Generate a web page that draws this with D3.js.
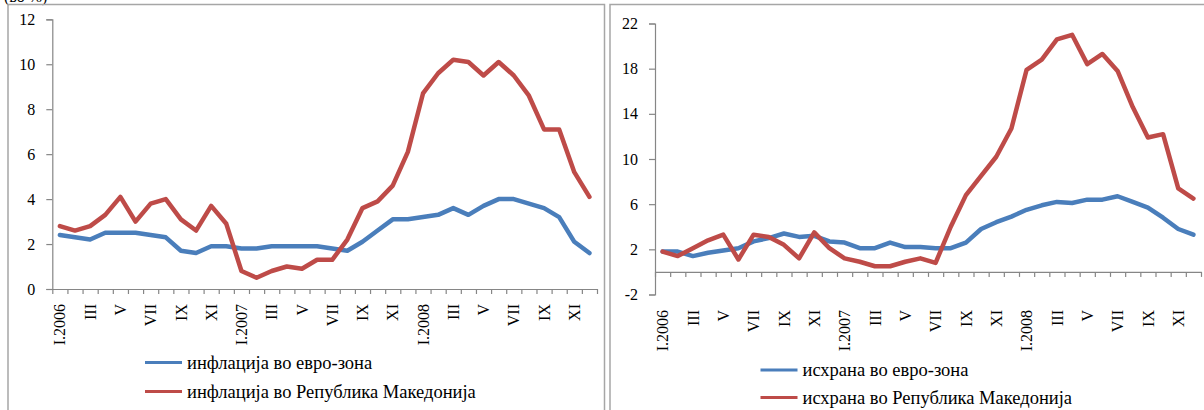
<!DOCTYPE html>
<html>
<head>
<meta charset="utf-8">
<script src="https://cdn.jsdelivr.net/npm/d3@7"></script>
<style>
  html, body { margin: 0; padding: 0; background: #fff; }
  svg { display: block; }
  text { font-family: "Liberation Serif", "Times New Roman", serif; fill: #000; }
</style>
</head>
<body>
<svg id="chart" width="1204" height="410"></svg>
<script>
// Monthly categories, January 2006 – December 2008
const months = [
  "I.2006","II","III","IV","V","VI","VII","VIII","IX","X","XI","XII",
  "I.2007","II","III","IV","V","VI","VII","VIII","IX","X","XI","XII",
  "I.2008","II","III","IV","V","VI","VII","VIII","IX","X","XI","XII"
];

// Annual inflation, %
const inflationEuro = [2.4,2.3,2.2,2.5,2.5,2.5,2.4,2.3,1.7,1.6,1.9,1.9,
                       1.8,1.8,1.9,1.9,1.9,1.9,1.8,1.7,2.1,2.6,3.1,3.1,
                       3.2,3.3,3.6,3.3,3.7,4.0,4.0,3.8,3.6,3.2,2.1,1.6];
const inflationMk   = [2.8,2.6,2.8,3.3,4.1,3.0,3.8,4.0,3.1,2.6,3.7,2.9,
                       0.8,0.5,0.8,1.0,0.9,1.3,1.3,2.2,3.6,3.9,4.6,6.1,
                       8.7,9.6,10.2,10.1,9.5,10.1,9.5,8.6,7.1,7.1,5.2,4.1];

// Annual food price inflation, %
const foodEuro = [1.8,1.8,1.4,1.7,1.9,2.1,2.7,3.0,3.4,3.1,3.2,2.7,
                  2.6,2.1,2.1,2.6,2.2,2.2,2.1,2.1,2.6,3.8,4.4,4.9,
                  5.5,5.9,6.2,6.1,6.4,6.4,6.7,6.2,5.7,4.8,3.8,3.3];
const foodMk   = [1.8,1.4,2.1,2.8,3.3,1.1,3.3,3.1,2.4,1.2,3.5,2.1,
                  1.2,0.9,0.5,0.5,0.9,1.2,0.8,4.0,6.8,8.5,10.2,12.7,
                  17.9,18.8,20.6,21.0,18.4,19.3,17.8,14.6,11.9,12.2,7.4,6.5];

const leftTicks  = [0,2,4,6,8,10,12];
const rightTicks = [-2,2,6,10,14,18,22];

const leftLegend  = ["инфлација во евро-зона", "инфлација во Република Македонија"];
const rightLegend = ["исхрана во евро-зона", "исхрана во Република Македонија"];

const BLUE = "#4a7ebb";
const RED  = "#be4b48";
const AXIS = "#868686";
const FRAME = "#a6a6a6";

const svg = d3.select("#chart");

// unit caption above the first panel, running off the top edge
svg.append("text").attr("x", 4).attr("y", 2).attr("font-size", 16).text("(во %)");

// panel frames
svg.append("rect").attr("x", 8).attr("y", 4.5).attr("width", 596.5).attr("height", 420)
  .attr("fill", "none").attr("stroke", FRAME).attr("stroke-width", 1.5);
svg.append("rect").attr("x", 610).attr("y", 4.5).attr("width", 620).attr("height", 420)
  .attr("fill", "none").attr("stroke", FRAME).attr("stroke-width", 1.5);

function drawPanel(cfg) {
  const g = svg.append("g");
  const y = d3.scaleLinear().domain(cfg.domain).range([cfg.bottom, cfg.top]);
  const x = d3.scaleBand().domain(d3.range(months.length)).range([cfg.left, cfg.right]).padding(0);
  const xEdge = d3.scaleLinear().domain([0, months.length]).range([cfg.left, cfg.right]);
  const cx = i => x(i) + x.bandwidth() / 2;

  // value axis
  const yAxis = g.append("g").attr("transform", `translate(${cfg.left},0)`)
    .call(d3.axisLeft(y).tickValues(cfg.ticks).tickSize(6).tickPadding(11).tickFormat(d => String(d)));
  yAxis.select(".domain").attr("stroke", AXIS).attr("stroke-width", 1.2);
  yAxis.selectAll(".tick line").attr("stroke", AXIS).attr("stroke-width", 1.2);
  yAxis.selectAll(".tick text").attr("font-size", 16).attr("fill", "#000");

  // category axis crossing at zero, ticks between categories
  const y0 = y(0);
  const xAxis = g.append("g").attr("transform", `translate(0,${y0})`)
    .call(d3.axisBottom(xEdge).tickValues(d3.range(months.length + 1)).tickSize(5).tickSizeOuter(0).tickFormat(""));
  xAxis.select(".domain").attr("stroke", AXIS).attr("stroke-width", 1.2);
  xAxis.selectAll(".tick line").attr("stroke", AXIS).attr("stroke-width", 1.2);

  // month labels, every second month, rotated, placed under the plot area
  g.append("g").selectAll("text")
    .data(months.map((m, i) => ({ m, i })).filter(d => d.i % 2 === 0))
    .join("text")
    .attr("transform", d => `translate(${cx(d.i)},${cfg.bottom + cfg.labelGap}) rotate(-90)`)
    .attr("text-anchor", "end")
    .attr("dy", "0.35em")
    .attr("font-size", 16)
    .text(d => d.m);

  // series lines
  const line = d3.line().x((d, i) => cx(i)).y(d => y(d));
  cfg.series.forEach(s => {
    g.append("path").datum(s.values)
      .attr("d", line)
      .attr("fill", "none")
      .attr("stroke", s.color)
      .attr("stroke-width", 4.5)
      .attr("stroke-linejoin", "round")
      .attr("stroke-linecap", "round");
  });

  // legend
  const lg = g.append("g");
  cfg.series.forEach((s, k) => {
    const ly = cfg.legend.y + k * cfg.legend.step;
    lg.append("line")
      .attr("x1", cfg.legend.x).attr("x2", cfg.legend.x + 37)
      .attr("y1", ly).attr("y2", ly)
      .attr("stroke", s.color).attr("stroke-width", 3);
    lg.append("text")
      .attr("x", cfg.legend.x + 42).attr("y", ly).attr("dy", "0.33em")
      .attr("font-size", 18.5)
      .text(s.name);
  });
}

drawPanel({
  left: 52.3, right: 597, top: 19.3, bottom: 289, labelGap: 15,
  domain: [0, 12], ticks: leftTicks,
  series: [
    { name: leftLegend[0], values: inflationEuro, color: BLUE },
    { name: leftLegend[1], values: inflationMk, color: RED }
  ],
  legend: { x: 145, y: 362.5, step: 29 }
});

drawPanel({
  left: 655, right: 1201, top: 23.5, bottom: 294.5, labelGap: 15.5,
  domain: [-2, 22], ticks: rightTicks,
  series: [
    { name: rightLegend[0], values: foodEuro, color: BLUE },
    { name: rightLegend[1], values: foodMk, color: RED }
  ],
  legend: { x: 760.5, y: 370, step: 27.5 }
});
</script>
</body>
</html>
